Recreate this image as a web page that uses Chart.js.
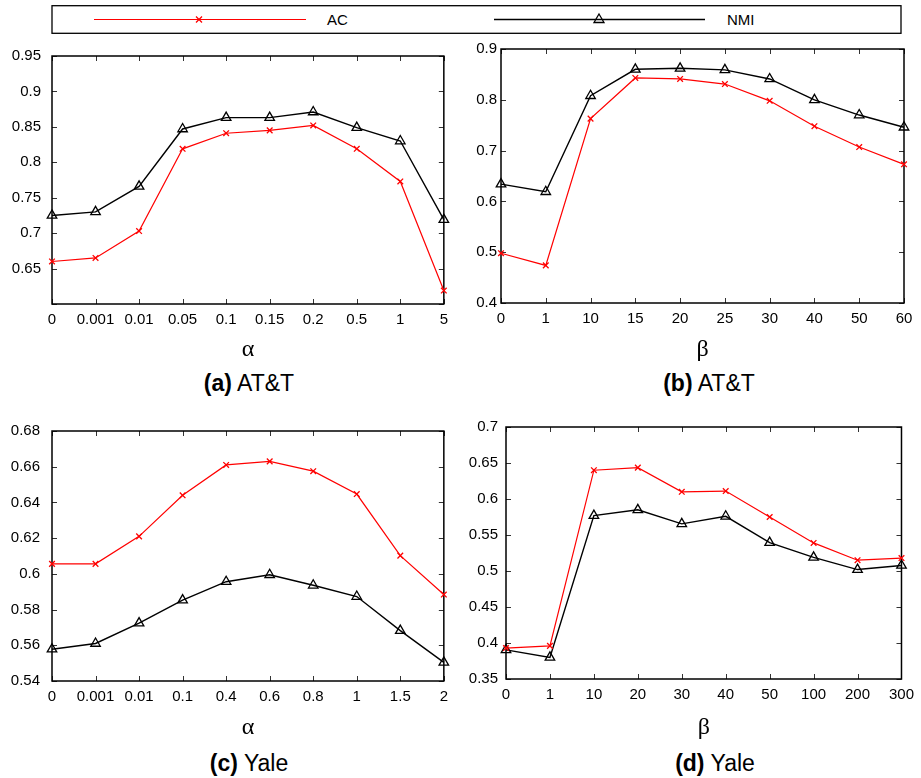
<!DOCTYPE html>
<html lang="en">
<head>
    <meta charset="UTF-8">
    <title>AC / NMI parameter sensitivity</title>
    <script src="https://cdn.jsdelivr.net/npm/chart.js"></script>
    <style>
        body { margin: 0; background: #fff; font-family: "Liberation Sans", Arial, sans-serif; }
        #page { position: relative; width: 921px; height: 778px; }
        canvas { position: absolute; }
        .caption { position: absolute; transform: translate(-50%, -50%); font-size: 23px; white-space: nowrap; color: #000; }
        #legend { position: absolute; left: 0; top: 0; }
    </style>
</head>
<body>
<div id="page">
    <svg id="legend" width="921" height="40"></svg>
    <canvas id="chartA" width="455" height="332" style="left:0;top:36px"></canvas>
    <canvas id="chartB" width="461" height="332" style="left:460px;top:36px"></canvas>
    <canvas id="chartC" width="455" height="336" style="left:0;top:410px"></canvas>
    <canvas id="chartD" width="461" height="336" style="left:460px;top:410px"></canvas>
    <div class="caption" style="left:249px;top:383px"><b>(a)</b> AT&amp;T</div>
    <div class="caption" style="left:709px;top:383px"><b>(b)</b> AT&amp;T</div>
    <div class="caption" style="left:249px;top:763px"><b>(c)</b> Yale</div>
    <div class="caption" style="left:715px;top:763px"><b>(d)</b> Yale</div>
</div>

<script>
    // AT&T, varying alpha
    const alphaAtt = ['0', '0.001', '0.01', '0.05', '0.1', '0.15', '0.2', '0.5', '1', '5'];
    const acAttAlpha = [0.660, 0.665, 0.703, 0.819, 0.841, 0.845, 0.852, 0.819, 0.773, 0.619];
    const nmiAttAlpha = [0.725, 0.730, 0.766, 0.847, 0.863, 0.863, 0.871, 0.849, 0.830, 0.719];

    // AT&T, varying beta
    const betaAtt = ['0', '1', '10', '15', '20', '25', '30', '40', '50', '60'];
    const acAttBeta = [0.498, 0.474, 0.763, 0.843, 0.841, 0.831, 0.798, 0.748, 0.707, 0.673];
    const nmiAttBeta = [0.634, 0.619, 0.808, 0.860, 0.862, 0.859, 0.841, 0.800, 0.770, 0.746];

    // Yale, varying alpha
    const alphaYale = ['0', '0.001', '0.01', '0.1', '0.4', '0.6', '0.8', '1', '1.5', '2'];
    const acYaleAlpha = [0.6056, 0.6056, 0.621, 0.644, 0.661, 0.663, 0.6575, 0.6447, 0.6102, 0.5884];
    const nmiYaleAlpha = [0.5578, 0.561, 0.5724, 0.5853, 0.5956, 0.5995, 0.5936, 0.5873, 0.5682, 0.5504];

    // Yale, varying beta
    const betaYale = ['0', '1', '10', '20', '30', '40', '50', '100', '200', '300'];
    const acYaleBeta = [0.393, 0.396, 0.640, 0.6436, 0.610, 0.611, 0.575, 0.539, 0.515, 0.518];
    const nmiYaleBeta = [0.3905, 0.380, 0.577, 0.585, 0.5655, 0.576, 0.5395, 0.519, 0.502, 0.5077];

    const seriesNames = ['AC', 'NMI'];
    const RED = '#ff0000';

    // frame + inward tick marks on all four sides
    const frameTicks = {
        id: 'frameTicks',
        beforeDatasetsDraw(chart) {
            const { ctx, chartArea: a, scales: { x, y } } = chart;
            const len = 5;
            ctx.save();
            ctx.strokeStyle = '#333';
            ctx.lineWidth = 1;
            ctx.beginPath();
            x.ticks.forEach((t, i) => {
                const px = Math.round(x.getPixelForTick(i)) + 0.5;
                ctx.moveTo(px, a.top); ctx.lineTo(px, a.top + len);
                ctx.moveTo(px, a.bottom); ctx.lineTo(px, a.bottom - len);
            });
            y.ticks.forEach((t, i) => {
                const py = Math.round(y.getPixelForTick(i)) + 0.5;
                ctx.moveTo(a.left, py); ctx.lineTo(a.left + len, py);
                ctx.moveTo(a.right, py); ctx.lineTo(a.right - len, py);
            });
            ctx.stroke();
            ctx.strokeStyle = '#000';
            ctx.lineWidth = 1.5;
            ctx.strokeRect(a.left, a.top, a.right - a.left, a.bottom - a.top);
            ctx.restore();
        }
    };

    function fmt(v) {
        return String(Number(v.toFixed(3)));
    }

    function makePanel(id, box, plot, labels, ac, nmi, yOpts, xTitle) {
        const yWidth = plot.l - box.left;
        const xHeight = box.top + box.height - plot.b;
        new Chart(document.getElementById(id), {
            type: 'line',
            data: {
                labels: labels,
                datasets: [{
                    label: seriesNames[0],
                    data: ac,
                    borderColor: RED,
                    borderWidth: 1.2,
                    pointStyle: 'crossRot',
                    pointRadius: 4,
                    pointBorderColor: RED,
                    pointBorderWidth: 1.3,
                    pointBackgroundColor: RED,
                    tension: 0,
                    clip: false
                }, {
                    label: seriesNames[1],
                    data: nmi,
                    borderColor: '#000',
                    borderWidth: 1.4,
                    pointStyle: 'triangle',
                    pointRadius: 5.5,
                    pointBorderColor: '#000',
                    pointBorderWidth: 1.3,
                    pointBackgroundColor: 'rgba(0,0,0,0)',
                    tension: 0,
                    clip: false
                }]
            },
            options: {
                responsive: false,
                animation: false,
                events: [],
                layout: {
                    padding: {
                        left: 0,
                        top: plot.t - box.top,
                        right: box.left + box.width - plot.r,
                        bottom: 0
                    }
                },
                plugins: { legend: { display: false }, tooltip: { enabled: false } },
                scales: {
                    x: {
                        type: 'category',
                        offset: false,
                        grid: { display: false, drawTicks: false },
                        border: { display: false },
                        ticks: {
                            autoSkip: false,
                            maxRotation: 0,
                            padding: 7,
                            color: '#000',
                            font: { family: 'Liberation Sans', size: 15 }
                        },
                        title: {
                            display: true,
                            text: xTitle,
                            color: '#000',
                            padding: { top: 0, bottom: 4 },
                            font: { family: 'Liberation Serif', size: 24 }
                        },
                        afterFit(scale) { scale.height = xHeight; }
                    },
                    y: {
                        min: yOpts.min,
                        max: yOpts.max,
                        grid: { display: false, drawTicks: false },
                        border: { display: false },
                        ticks: {
                            stepSize: yOpts.step,
                            padding: yOpts.pad,
                            color: '#000',
                            font: { family: 'Liberation Sans', size: 15 },
                            callback: (v) => (yOpts.hideMin && Math.abs(v - yOpts.min) < 1e-9) ? '' : fmt(v)
                        },
                        afterFit(scale) { scale.width = yWidth; }
                    }
                }
            },
            plugins: [frameTicks]
        });
    }

    makePanel('chartA', { left: 0, top: 36, width: 455, height: 332 },
        { l: 52, r: 446, t: 48, b: 304 },
        alphaAtt, acAttAlpha, nmiAttAlpha,
        { min: 0.6, max: 0.95, step: 0.05, pad: 11, hideMin: true }, 'α');

    makePanel('chartB', { left: 460, top: 36, width: 461, height: 332 },
        { l: 501, r: 904, t: 48, b: 303 },
        betaAtt, acAttBeta, nmiAttBeta,
        { min: 0.4, max: 0.9, step: 0.1, pad: 4 }, 'β');

    makePanel('chartC', { left: 0, top: 410, width: 455, height: 336 },
        { l: 52, r: 447, t: 424, b: 681 },
        alphaYale, acYaleAlpha, nmiYaleAlpha,
        { min: 0.54, max: 0.68, step: 0.02, pad: 12 }, 'α');

    makePanel('chartD', { left: 460, top: 410, width: 461, height: 336 },
        { l: 506, r: 902, t: 423, b: 679 },
        betaYale, acYaleBeta, nmiYaleBeta,
        { min: 0.35, max: 0.7, step: 0.05, pad: 8 }, 'β');

    // shared legend across the top
    (function drawLegend() {
        const svg = document.getElementById('legend');
        const ns = 'http://www.w3.org/2000/svg';
        function el(tag, attrs) {
            const e = document.createElementNS(ns, tag);
            for (const k in attrs) e.setAttribute(k, attrs[k]);
            svg.appendChild(e);
            return e;
        }
        const cy = 19.5;
        el('rect', { x: 52, y: 5.7, width: 849, height: 27.6, fill: 'none', stroke: '#000', 'stroke-width': 1.3 });

        el('line', { x1: 94, y1: cy, x2: 306, y2: cy, stroke: RED, 'stroke-width': 1.2 });
        el('path', { d: `M196,${cy - 3} l6,6 M196,${cy + 3} l6,-6`, stroke: RED, 'stroke-width': 1.3 });
        const t1 = el('text', { x: 327, y: cy + 5.5, 'font-family': 'Liberation Sans', 'font-size': 15, fill: '#000' });
        t1.textContent = seriesNames[0];

        el('line', { x1: 494, y1: cy, x2: 705, y2: cy, stroke: '#000', 'stroke-width': 1.3 });
        el('path', { d: `M599,${cy - 5.5} L604,${cy + 3} L594,${cy + 3} Z`, fill: 'none', stroke: '#000', 'stroke-width': 1.3 });
        const t2 = el('text', { x: 727, y: cy + 5.5, 'font-family': 'Liberation Sans', 'font-size': 15, fill: '#000' });
        t2.textContent = seriesNames[1];
    })();
</script>
</body>
</html>
